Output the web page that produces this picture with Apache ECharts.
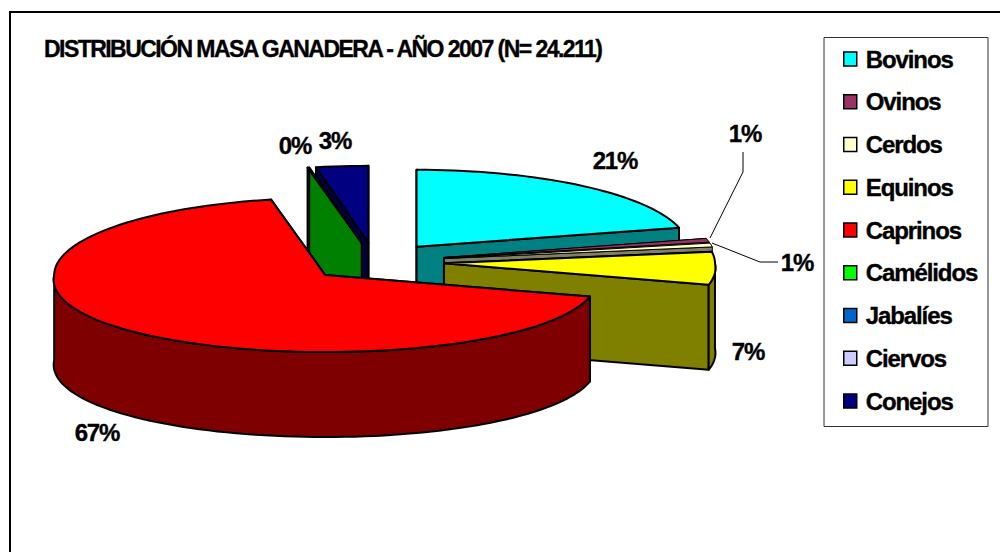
<!DOCTYPE html>
<html><head><meta charset="utf-8">
<style>html,body{margin:0;padding:0;background:#fff}#c{width:1000px;height:552px}#c text{stroke:#000;stroke-width:.35px}</style>
<script src="https://cdn.jsdelivr.net/npm/echarts@6/dist/echarts.min.js"></script>
</head><body><div id="c"></div>
<script>
const categories = ['Bovinos','Ovinos','Cerdos','Equinos','Caprinos','Camélidos','Jabalíes','Ciervos','Conejos'];
const shares = [21.0,0.8,0.8,6.9,67.3,0.1,0,0,3.1];
const topColors = ['#00FFFF','#993366','#FFFFCC','#FFFF00','#FF0000','#00FF00','#0066CC','#CCCCFF','#000080'];
const wallColors = ['#008080','#4C1933','#808066','#808000','#7F0000','#008000','#003366','#666680','#000040'];
const explode = [.25,.26,.26,.255,.25,.25,.25,.25,.25];
const titleText = 'DISTRIBUCIÓN MASA GANADERA - AÑO 2007 (N= 24.211)';
const labelPos = [[615,160],[745,133],[797,262],[748,351],[97,432],[295,145],null,null,[335,140]];

const C=[375,262], RX=271, RY=77, DEPTH=85, FONT='"Liberation Sans",Arial,sans-serif';
const total = shares.reduce((a,b)=>a+b,0);
const drawOrder = [8,7,6,5,0,1,2,3,4];
let acc=0; const angles = shares.map(v=>{const a=acc; acc+=v; return [a/total*360, acc/total*360];});
const rad=d=>d*Math.PI/180;
const rim=(c,t,dz=0)=>{const dy=-RY*Math.cos(rad(t));return [c[0]+RX*Math.sin(rad(t))*(1+.0008*Math.max(0,dy)), c[1]+dy+dz];};
function arc(c,a,b,dz){const p=[],n=Math.max(1,Math.ceil((b-a)/2));for(let i=0;i<=n;i++)p.push(rim(c,a+(b-a)*i/n,dz));return p;}
const poly=(pts,fill,z2,lw)=>({type:'polygon',z2,shape:{points:pts},style:{fill,stroke:'#000',lineWidth:lw,lineJoin:'round'}});

function renderSlice(idx){
  const [a,b]=angles[idx], m=(a+b)/2, e=explode[idx];
  const c=[C[0]+e*RX*Math.sin(rad(m)), C[1]-e*RY*Math.cos(rad(m))];
  const wall=wallColors[idx], kids=[], lw=(b-a)<5&&m<180?1:2;
  if(b-a>0.01){
    [a,b].forEach(t=>{const r=rim(c,t);kids.push(poly([c,r,[r[0],r[1]+DEPTH],[c[0],c[1]+DEPTH]],wall,1,lw));});
    const f0=Math.max(a,90),f1=Math.min(b,270);
    if(f1>f0) kids.push(poly(arc(c,f0,f1,0).concat(arc(c,f0,f1,DEPTH).reverse()),wall,2,lw));
    kids.push(poly([c].concat(arc(c,a,b,0)),topColors[idx],3,lw));
  }
  return {type:'group',children:kids};
}
const series = categories.map((name,idx)=>({
  name,type:'custom',coordinateSystem:'none',silent:true,
  z:2+drawOrder.indexOf(idx)*0.01,
  itemStyle:{color:topColors[idx]},
  data:[[shares[idx]]],
  renderItem:()=>renderSlice(idx)
}));
const labelGraphics = labelPos.map((p,i)=>p?({type:'text',x:p[0],y:p[1],z:20,style:{text:Math.round(shares[i])+'%',font:'bold 24px '+FONT,fill:'#000',align:'center',verticalAlign:'middle'}}):null).filter(Boolean);
const chart = echarts.init(document.getElementById('c'),null,{renderer:'svg'});
chart.setOption({
  animation:false,backgroundColor:'#fff',
  title:{text:titleText,left:44,top:37,padding:0,textStyle:{fontFamily:FONT,fontSize:23,fontWeight:'bold',color:'#000'}},
  legend:{orient:'vertical',left:843,top:47,padding:0,itemWidth:13,itemHeight:14,itemGap:18.75,icon:'rect',selectedMode:false,
    itemStyle:{borderColor:'#000',borderWidth:1.5},
    textStyle:{fontFamily:FONT,fontSize:24,fontWeight:'bold',color:'#000',lineHeight:24,padding:[0,0,0,4]},
    data:categories},
  graphic:[
    {type:'rect',z:-1,shape:{x:10,y:12,width:1100,height:700},style:{fill:'#fff',stroke:'#000',lineWidth:2}},
    {type:'rect',z:-1,shape:{x:824,y:37.5,width:164,height:389},style:{fill:'#fff',stroke:'#333',lineWidth:1}},
    {type:'polyline',z:19,shape:{points:[[743,152],[743,172],[710,238]]},style:{fill:'none',stroke:'#000',lineWidth:1}},
    {type:'polyline',z:19,shape:{points:[[712,243],[760,262],[778,262]]},style:{fill:'none',stroke:'#000',lineWidth:1}},
    ...labelGraphics
  ],
  series
});
const ls=()=>document.querySelectorAll('#c text').forEach(t=>{t.setAttribute('letter-spacing', t.textContent===titleText?'-1.55':'-1.1');});
chart.on('finished',ls); ls();
</script></body></html>
